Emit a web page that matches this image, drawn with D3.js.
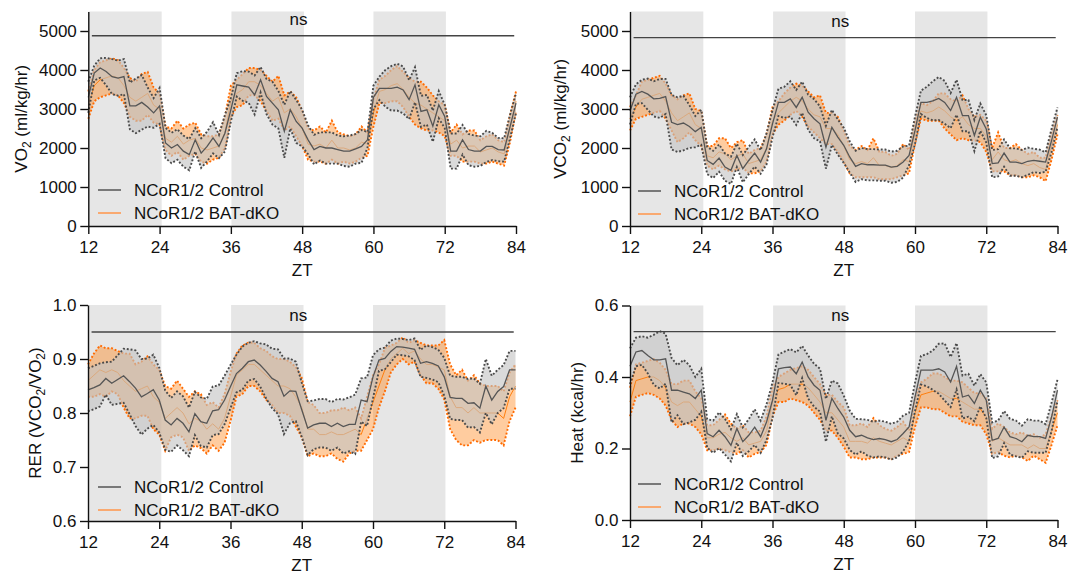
<!DOCTYPE html>
<html>
<head>
<meta charset="utf-8">
<script src="https://d3js.org/d3.v7.min.js"></script>
<style>
  body { margin: 0; background: #fff; }
</style>
</head>
<body>
<svg id="chart" width="1069" height="578"></svg>
<script>
// hourly sample times (ZT, hours)
var zt = [12,13,14,15,16,17,18,19,20,21,22,23,
          24,25,26,27,28,29,30,31,32,33,34,35,
          36,37,38,39,40,41,42,43,44,45,46,47,
          48,49,50,51,52,53,54,55,56,57,58,59,
          60,61,62,63,64,65,66,67,68,69,70,71,
          72,73,74,75,76,77,78,79,80,81,82,83,84];
var ztTicks = [12, 24, 36, 48, 60, 72, 84];
var darkStart = [12, 36.1, 60];
var darkEnd = [24.35, 48.3, 72.2];
var seriesNames = ['NCoR1/2 Control', 'NCoR1/2 BAT-dKO'];

// VO2 (ml/kg/hr)
var vo2Ticks = [0, 1000, 2000, 3000, 4000, 5000];
var vo2CtrlMean = [3300,3920,4050,3960,3830,3790,3830,3080,3080,3170,3050,2900,
                   3080,2130,2000,2090,1920,1830,2210,1870,2040,2260,2040,2380,
                   2980,3620,3590,3560,3360,3750,3320,3150,2980,2430,2980,2680,
                   2510,2210,1960,2040,2000,2000,1960,1920,1920,1980,2040,2210,
                   3300,3530,3530,3530,3560,3490,3240,3620,2940,2980,2560,3110,
                   2810,1920,1920,2210,1960,1920,1920,2040,2040,1960,1950,2550,3150];
var vo2CtrlSem = [400,190,250,350,450,450,450,600,700,700,500,380,
                  460,390,390,390,400,400,300,380,380,400,300,470,
                  300,300,380,400,500,330,450,550,480,680,480,550,
                  470,370,380,360,400,400,360,380,400,380,420,200,
                  300,300,470,570,600,600,500,450,400,380,400,350,
                  300,450,450,380,400,400,380,400,350,300,300,300,250];
var vo2KoMean = [3100,3600,3750,3800,3850,3800,3600,3300,3200,3300,3400,3100,
                 3000,2250,2150,2300,2100,2200,2250,2000,1950,2000,2050,2400,
                 3200,3400,3500,3700,3700,3600,3400,3200,3300,2900,3000,2800,
                 2500,2100,2050,2100,2000,2200,2000,2000,1950,2000,2150,2100,
                 2900,3450,3500,3600,3650,3500,3300,3150,3100,3000,2900,2800,
                 2700,2100,2200,2000,2050,2050,1900,1950,2000,1900,1850,2500,3200];
var vo2KoSem = [350,400,450,450,450,450,450,500,500,600,550,450,
                400,300,350,400,400,400,400,350,350,300,300,400,
                400,350,400,350,350,400,450,500,550,450,450,500,
                450,400,400,450,400,500,400,350,350,350,400,300,
                350,300,350,400,450,450,500,550,600,550,450,400,
                400,300,400,350,400,400,300,350,350,300,300,350,250];

// VCO2 (ml/kg/hr)
var vco2Ticks = [0, 1000, 2000, 3000, 4000, 5000];
var vco2CtrlMean = [2950,3380,3450,3380,3260,3270,3320,2660,2600,2640,2550,2420,
                    2530,1680,1580,1740,1510,1430,1810,1470,1680,1870,1640,1980,
                    2620,3170,3170,3260,3040,3300,2920,2750,2620,2020,2530,2280,
                    2070,1770,1530,1600,1570,1570,1560,1560,1510,1530,1640,1810,
                    2450,3170,3170,3210,3270,3170,2960,3300,2830,2830,2320,2790,
                    2490,1600,1620,1870,1640,1640,1600,1660,1680,1660,1640,2190,2790];
var vco2CtrlSem = [350,250,300,400,450,500,450,700,700,700,550,400,
                   450,350,350,350,350,350,300,350,350,350,300,400,
                   350,350,400,450,450,400,450,500,450,550,450,450,
                   450,400,400,400,400,400,400,400,400,400,400,250,
                   350,300,400,500,550,550,450,450,400,400,400,350,
                   350,350,350,350,350,350,350,350,300,300,250,300,250];
var vco2KoMean = [2750,3050,3250,3300,3350,3400,3200,2900,2700,2800,2900,2600,
                  2500,1800,1750,1900,1850,1700,1800,1850,1600,1650,1700,2000,
                  2700,2900,3050,3200,3300,3200,3000,2850,2800,2500,2500,2350,
                  2050,1700,1600,1650,1600,1750,1550,1550,1500,1550,1700,1650,
                  2400,2950,2900,2950,3050,2950,2800,2700,2800,2600,2500,2500,
                  2300,1700,1900,1700,1650,1700,1600,1550,1600,1500,1450,2050,2600];
var vco2KoSem = [300,300,450,450,450,450,450,450,550,550,500,400,
                 450,250,300,350,400,300,350,350,250,300,300,350,
                 350,300,350,350,350,400,450,450,550,400,400,450,
                 400,350,350,400,350,500,350,350,300,300,400,300,
                 300,200,200,250,350,450,450,500,550,400,300,350,
                 400,300,500,300,350,400,350,300,300,250,300,350,250];

// RER (VCO2/VO2)
var rerTicks = [0.6, 0.7, 0.8, 0.9, 1.0];
var rerCtrlMean = [0.843,0.847,0.852,0.864,0.855,0.862,0.869,0.858,0.846,0.830,0.836,0.843,
                   0.824,0.787,0.778,0.790,0.781,0.765,0.799,0.784,0.781,0.804,0.806,0.824,
                   0.849,0.873,0.883,0.895,0.898,0.889,0.877,0.864,0.858,0.831,0.841,0.840,
                   0.806,0.772,0.778,0.781,0.781,0.775,0.781,0.775,0.779,0.779,0.824,0.821,
                   0.867,0.898,0.901,0.914,0.923,0.922,0.920,0.918,0.892,0.895,0.892,0.887,
                   0.867,0.829,0.827,0.827,0.818,0.819,0.809,0.850,0.824,0.840,0.849,0.880,0.880];
var rerCtrlSem = [0.04,0.04,0.04,0.03,0.04,0.045,0.05,0.06,0.07,0.07,0.065,0.065,
                  0.06,0.055,0.05,0.05,0.05,0.045,0.04,0.045,0.045,0.045,0.045,0.045,
                  0.04,0.035,0.04,0.035,0.035,0.04,0.05,0.055,0.06,0.07,0.06,0.055,
                  0.05,0.05,0.045,0.045,0.045,0.045,0.045,0.05,0.05,0.055,0.04,0.045,
                  0.04,0.02,0.02,0.02,0.015,0.015,0.015,0.02,0.025,0.03,0.03,0.03,
                  0.035,0.04,0.04,0.04,0.045,0.045,0.045,0.05,0.045,0.04,0.04,0.035,0.035];
var rerKoMean = [0.86,0.87,0.88,0.875,0.88,0.875,0.86,0.85,0.84,0.845,0.85,0.83,
                 0.82,0.79,0.80,0.81,0.80,0.78,0.79,0.785,0.77,0.78,0.77,0.79,
                 0.83,0.87,0.88,0.89,0.89,0.88,0.87,0.86,0.85,0.85,0.845,0.83,
                 0.81,0.77,0.77,0.76,0.76,0.765,0.76,0.76,0.765,0.77,0.76,0.79,
                 0.82,0.85,0.88,0.90,0.91,0.92,0.91,0.915,0.90,0.89,0.89,0.885,
                 0.88,0.83,0.81,0.81,0.80,0.81,0.80,0.80,0.80,0.80,0.79,0.83,0.85];
var rerKoSem = [0.03,0.04,0.045,0.045,0.04,0.04,0.05,0.06,0.05,0.05,0.055,0.06,
                0.06,0.06,0.045,0.05,0.045,0.05,0.05,0.05,0.045,0.04,0.04,0.045,
                0.045,0.04,0.045,0.04,0.04,0.04,0.045,0.045,0.05,0.05,0.05,0.055,
                0.055,0.05,0.045,0.04,0.04,0.04,0.045,0.05,0.04,0.04,0.03,0.04,
                0.05,0.04,0.04,0.025,0.02,0.02,0.02,0.02,0.03,0.035,0.035,0.04,
                0.055,0.06,0.06,0.07,0.06,0.06,0.055,0.05,0.05,0.05,0.05,0.045,0.04];

// Heat (kcal/hr)
var heatTicks = [0, 0.2, 0.4, 0.6];
var heatCtrlMean = [0.430,0.470,0.474,0.460,0.448,0.448,0.451,0.363,0.363,0.358,0.353,0.340,
                    0.363,0.242,0.233,0.251,0.233,0.209,0.256,0.219,0.237,0.260,0.233,0.274,
                    0.335,0.423,0.426,0.428,0.409,0.442,0.400,0.377,0.363,0.279,0.340,0.312,
                    0.288,0.251,0.233,0.237,0.230,0.225,0.228,0.225,0.219,0.225,0.242,0.260,
                    0.344,0.419,0.419,0.419,0.423,0.414,0.386,0.430,0.344,0.349,0.326,0.363,
                    0.335,0.223,0.228,0.260,0.233,0.228,0.219,0.237,0.233,0.233,0.228,0.288,0.363];
var heatCtrlSem = [0.05,0.04,0.04,0.05,0.07,0.08,0.07,0.09,0.07,0.09,0.08,0.06,
                   0.06,0.04,0.045,0.05,0.05,0.045,0.04,0.04,0.045,0.05,0.045,0.05,
                   0.05,0.04,0.045,0.05,0.06,0.045,0.06,0.06,0.06,0.06,0.05,0.07,
                   0.06,0.055,0.05,0.045,0.05,0.05,0.05,0.05,0.05,0.05,0.05,0.04,
                   0.04,0.04,0.045,0.055,0.07,0.08,0.07,0.065,0.06,0.06,0.05,0.045,
                   0.05,0.05,0.05,0.045,0.05,0.05,0.045,0.045,0.045,0.045,0.04,0.04,0.03];
var heatKoMean = [0.33,0.39,0.395,0.40,0.40,0.39,0.37,0.33,0.32,0.33,0.33,0.31,
                  0.29,0.23,0.23,0.24,0.245,0.23,0.22,0.23,0.21,0.215,0.22,0.25,
                  0.33,0.365,0.37,0.38,0.38,0.38,0.37,0.35,0.33,0.30,0.30,0.28,
                  0.26,0.22,0.22,0.22,0.215,0.23,0.22,0.215,0.21,0.22,0.23,0.22,
                  0.30,0.35,0.355,0.36,0.36,0.35,0.34,0.34,0.33,0.32,0.31,0.31,
                  0.29,0.22,0.23,0.22,0.21,0.21,0.21,0.20,0.21,0.20,0.20,0.25,0.30];
var heatKoSem = [0.04,0.045,0.045,0.045,0.05,0.05,0.05,0.05,0.06,0.06,0.06,0.05,
                 0.05,0.035,0.035,0.04,0.05,0.04,0.035,0.035,0.035,0.03,0.03,0.04,
                 0.04,0.035,0.04,0.04,0.045,0.05,0.05,0.05,0.05,0.05,0.05,0.05,
                 0.055,0.045,0.045,0.05,0.045,0.055,0.045,0.04,0.04,0.04,0.045,0.03,
                 0.04,0.035,0.04,0.05,0.05,0.05,0.05,0.05,0.055,0.05,0.045,0.045,
                 0.05,0.035,0.04,0.04,0.035,0.03,0.035,0.035,0.03,0.03,0.04,0.04,0.035];

var font = "'Liberation Sans', Arial, sans-serif";
var fontSize = '17px';
var ctrlStyle = { fill: '#c4c4c4', fillOpacity: 0.62, edge: '#4a4a4a', line: '#555555', lineWidth: 1.3 };
var koStyle = { fill: '#ff7f0e', fillOpacity: 0.4, edge: '#ff6a00', line: '#ff7f0e', lineWidth: 1 };
var legendColors = ['#555555', '#ff9448'];

var panels = [
  { title: [['VO', ''], ['2', 'sub'], [' (ml/kg/hr)', '']],
    ctrlMean: vo2CtrlMean, ctrlSem: vo2CtrlSem, koMean: vo2KoMean, koSem: vo2KoSem,
    ticks: vo2Ticks, fmt: d3.format('d'), domain: [0, 5500], nsLevel: 4880,
    left: 88.3, right: 516, bottom: 226, top: 11.5, titleX: 27, legendX: 98, legendY: 190 },
  { title: [['VCO', ''], ['2', 'sub'], [' (ml/kg/hr)', '']],
    ctrlMean: vco2CtrlMean, ctrlSem: vco2CtrlSem, koMean: vco2KoMean, koSem: vco2KoSem,
    ticks: vco2Ticks, fmt: d3.format('d'), domain: [0, 5500], nsLevel: 4830,
    left: 630, right: 1057.5, bottom: 226, top: 11.5, titleX: 566, legendX: 638, legendY: 191 },
  { title: [['RER (VCO', ''], ['2', 'sub'], ['/VO', ''], ['2', 'sub'], [')', '']],
    ctrlMean: rerCtrlMean, ctrlSem: rerCtrlSem, koMean: rerKoMean, koSem: rerKoSem,
    ticks: rerTicks, fmt: d3.format('.1f'), domain: [0.6, 1.0], nsLevel: 0.95,
    left: 88, right: 515.5, bottom: 521, top: 305, titleX: 41, legendX: 98, legendY: 487 },
  { title: [['Heat (kcal/hr)', '']],
    ctrlMean: heatCtrlMean, ctrlSem: heatCtrlSem, koMean: heatKoMean, koSem: heatKoSem,
    ticks: heatTicks, fmt: d3.format('.1f'), domain: [0, 0.6], nsLevel: 0.527,
    left: 630, right: 1057.5, bottom: 520, top: 305.5, titleX: 583, legendX: 638, legendY: 484 }
];

var svg = d3.select('#chart');

// band (mean +/- sem) with dotted edges, then the mean line
function drawSeries(g, x, y, mean, sem, st) {
  var rows = zt.map(function (t, i) { return { t: t, m: mean[i], s: sem[i] }; });

  var area = d3.area()
    .x(function (d) { return x(d.t); })
    .y0(function (d) { return y(d.m - d.s); })
    .y1(function (d) { return y(d.m + d.s); });

  g.append('path')
    .datum(rows)
    .attr('d', area)
    .style('fill', st.fill)
    .style('fill-opacity', st.fillOpacity);

  [1, -1].forEach(function (sign) {
    var edge = d3.line()
      .x(function (d) { return x(d.t); })
      .y(function (d) { return y(d.m + sign * d.s); });
    g.append('path')
      .datum(rows)
      .attr('d', edge)
      .style('fill', 'none')
      .style('stroke', st.edge)
      .style('stroke-width', 1.9)
      .style('stroke-dasharray', '1.9,1.9');
  });

  var line = d3.line()
    .x(function (d) { return x(d.t); })
    .y(function (d) { return y(d.m); });

  g.append('path')
    .datum(rows)
    .attr('d', line)
    .style('fill', 'none')
    .style('stroke', st.line)
    .style('stroke-width', st.lineWidth);
}

function drawPanel(p) {
  var x = d3.scaleLinear().domain([12, 84]).range([p.left, p.right]);
  var y = d3.scaleLinear().domain(p.domain).range([p.bottom, p.top]);
  var g = svg.append('g');

  /**
   * Dark phase shading
   */
  g.selectAll('rect.dark')
    .data(darkStart)
    .enter()
    .append('rect')
    .attr('class', 'dark')
    .attr('x', function (d) { return x(d); })
    .attr('y', p.top)
    .attr('width', function (d, i) { return x(darkEnd[i]) - x(d); })
    .attr('height', p.bottom - p.top)
    .style('fill', '#e6e6e6');

  // KO first, control on top (its grey fill fades the orange underneath)
  drawSeries(g, x, y, p.koMean, p.koSem, koStyle);
  drawSeries(g, x, y, p.ctrlMean, p.ctrlSem, ctrlStyle);

  /**
   * ns bar
   */
  g.append('line')
    .attr('x1', x(12.6)).attr('x2', x(83.7))
    .attr('y1', y(p.nsLevel)).attr('y2', y(p.nsLevel))
    .style('stroke', '#444')
    .style('stroke-width', 1.4);

  g.append('text')
    .attr('x', x(47.4))
    .attr('y', y(p.nsLevel) - 11)
    .attr('text-anchor', 'middle')
    .style('font-family', font)
    .style('font-size', fontSize)
    .style('fill', '#111')
    .text('ns');

  /**
   * Axes
   */
  var ya = g.append('g')
    .attr('transform', 'translate(' + p.left + ',0)')
    .call(d3.axisLeft(y).tickValues(p.ticks).tickFormat(p.fmt)
      .tickSize(8).tickSizeOuter(0).tickPadding(3.5));

  var xa = g.append('g')
    .attr('transform', 'translate(0,' + p.bottom + ')')
    .call(d3.axisBottom(x).tickValues(ztTicks).tickFormat(d3.format('d'))
      .tickSize(8).tickSizeOuter(0).tickPadding(7));

  [ya, xa].forEach(function (a) {
    a.attr('font-size', 17).attr('font-family', font);
    a.selectAll('path, line').style('stroke', '#111').style('stroke-width', 1.4);
    a.selectAll('text').style('fill', '#111');
  });

  /**
   * Axis titles
   */
  g.append('text')
    .attr('x', (p.left + p.right) / 2)
    .attr('y', p.bottom + 50)
    .attr('text-anchor', 'middle')
    .style('font-family', font)
    .style('font-size', fontSize)
    .style('fill', '#111')
    .text('ZT');

  var yt = g.append('text')
    .attr('transform', 'translate(' + p.titleX + ',' + (p.top + p.bottom) / 2 + ') rotate(-90)')
    .attr('text-anchor', 'middle')
    .style('font-family', font)
    .style('font-size', fontSize)
    .style('fill', '#111');

  var shifted = false;
  p.title.forEach(function (part) {
    var ts = yt.append('tspan').text(part[0]);
    if (part[1] === 'sub') {
      ts.attr('dy', 4).style('font-size', '12px');
      shifted = true;
    } else if (shifted) {
      ts.attr('dy', -4);
      shifted = false;
    }
  });

  /**
   * Legend
   */
  var lg = g.append('g');
  lg.selectAll('line')
    .data(seriesNames)
    .enter()
    .append('line')
    .attr('x1', p.legendX)
    .attr('x2', p.legendX + 23)
    .attr('y1', function (d, i) { return p.legendY + i * 23; })
    .attr('y2', function (d, i) { return p.legendY + i * 23; })
    .style('stroke', function (d, i) { return legendColors[i]; })
    .style('stroke-width', 1.5);

  lg.selectAll('text')
    .data(seriesNames)
    .enter()
    .append('text')
    .attr('x', p.legendX + 36)
    .attr('y', function (d, i) { return p.legendY + i * 23 + 5.5; })
    .style('font-family', font)
    .style('font-size', fontSize)
    .style('fill', '#111')
    .text(function (d) { return d; });
}

panels.forEach(drawPanel);
</script>
</body>
</html>
